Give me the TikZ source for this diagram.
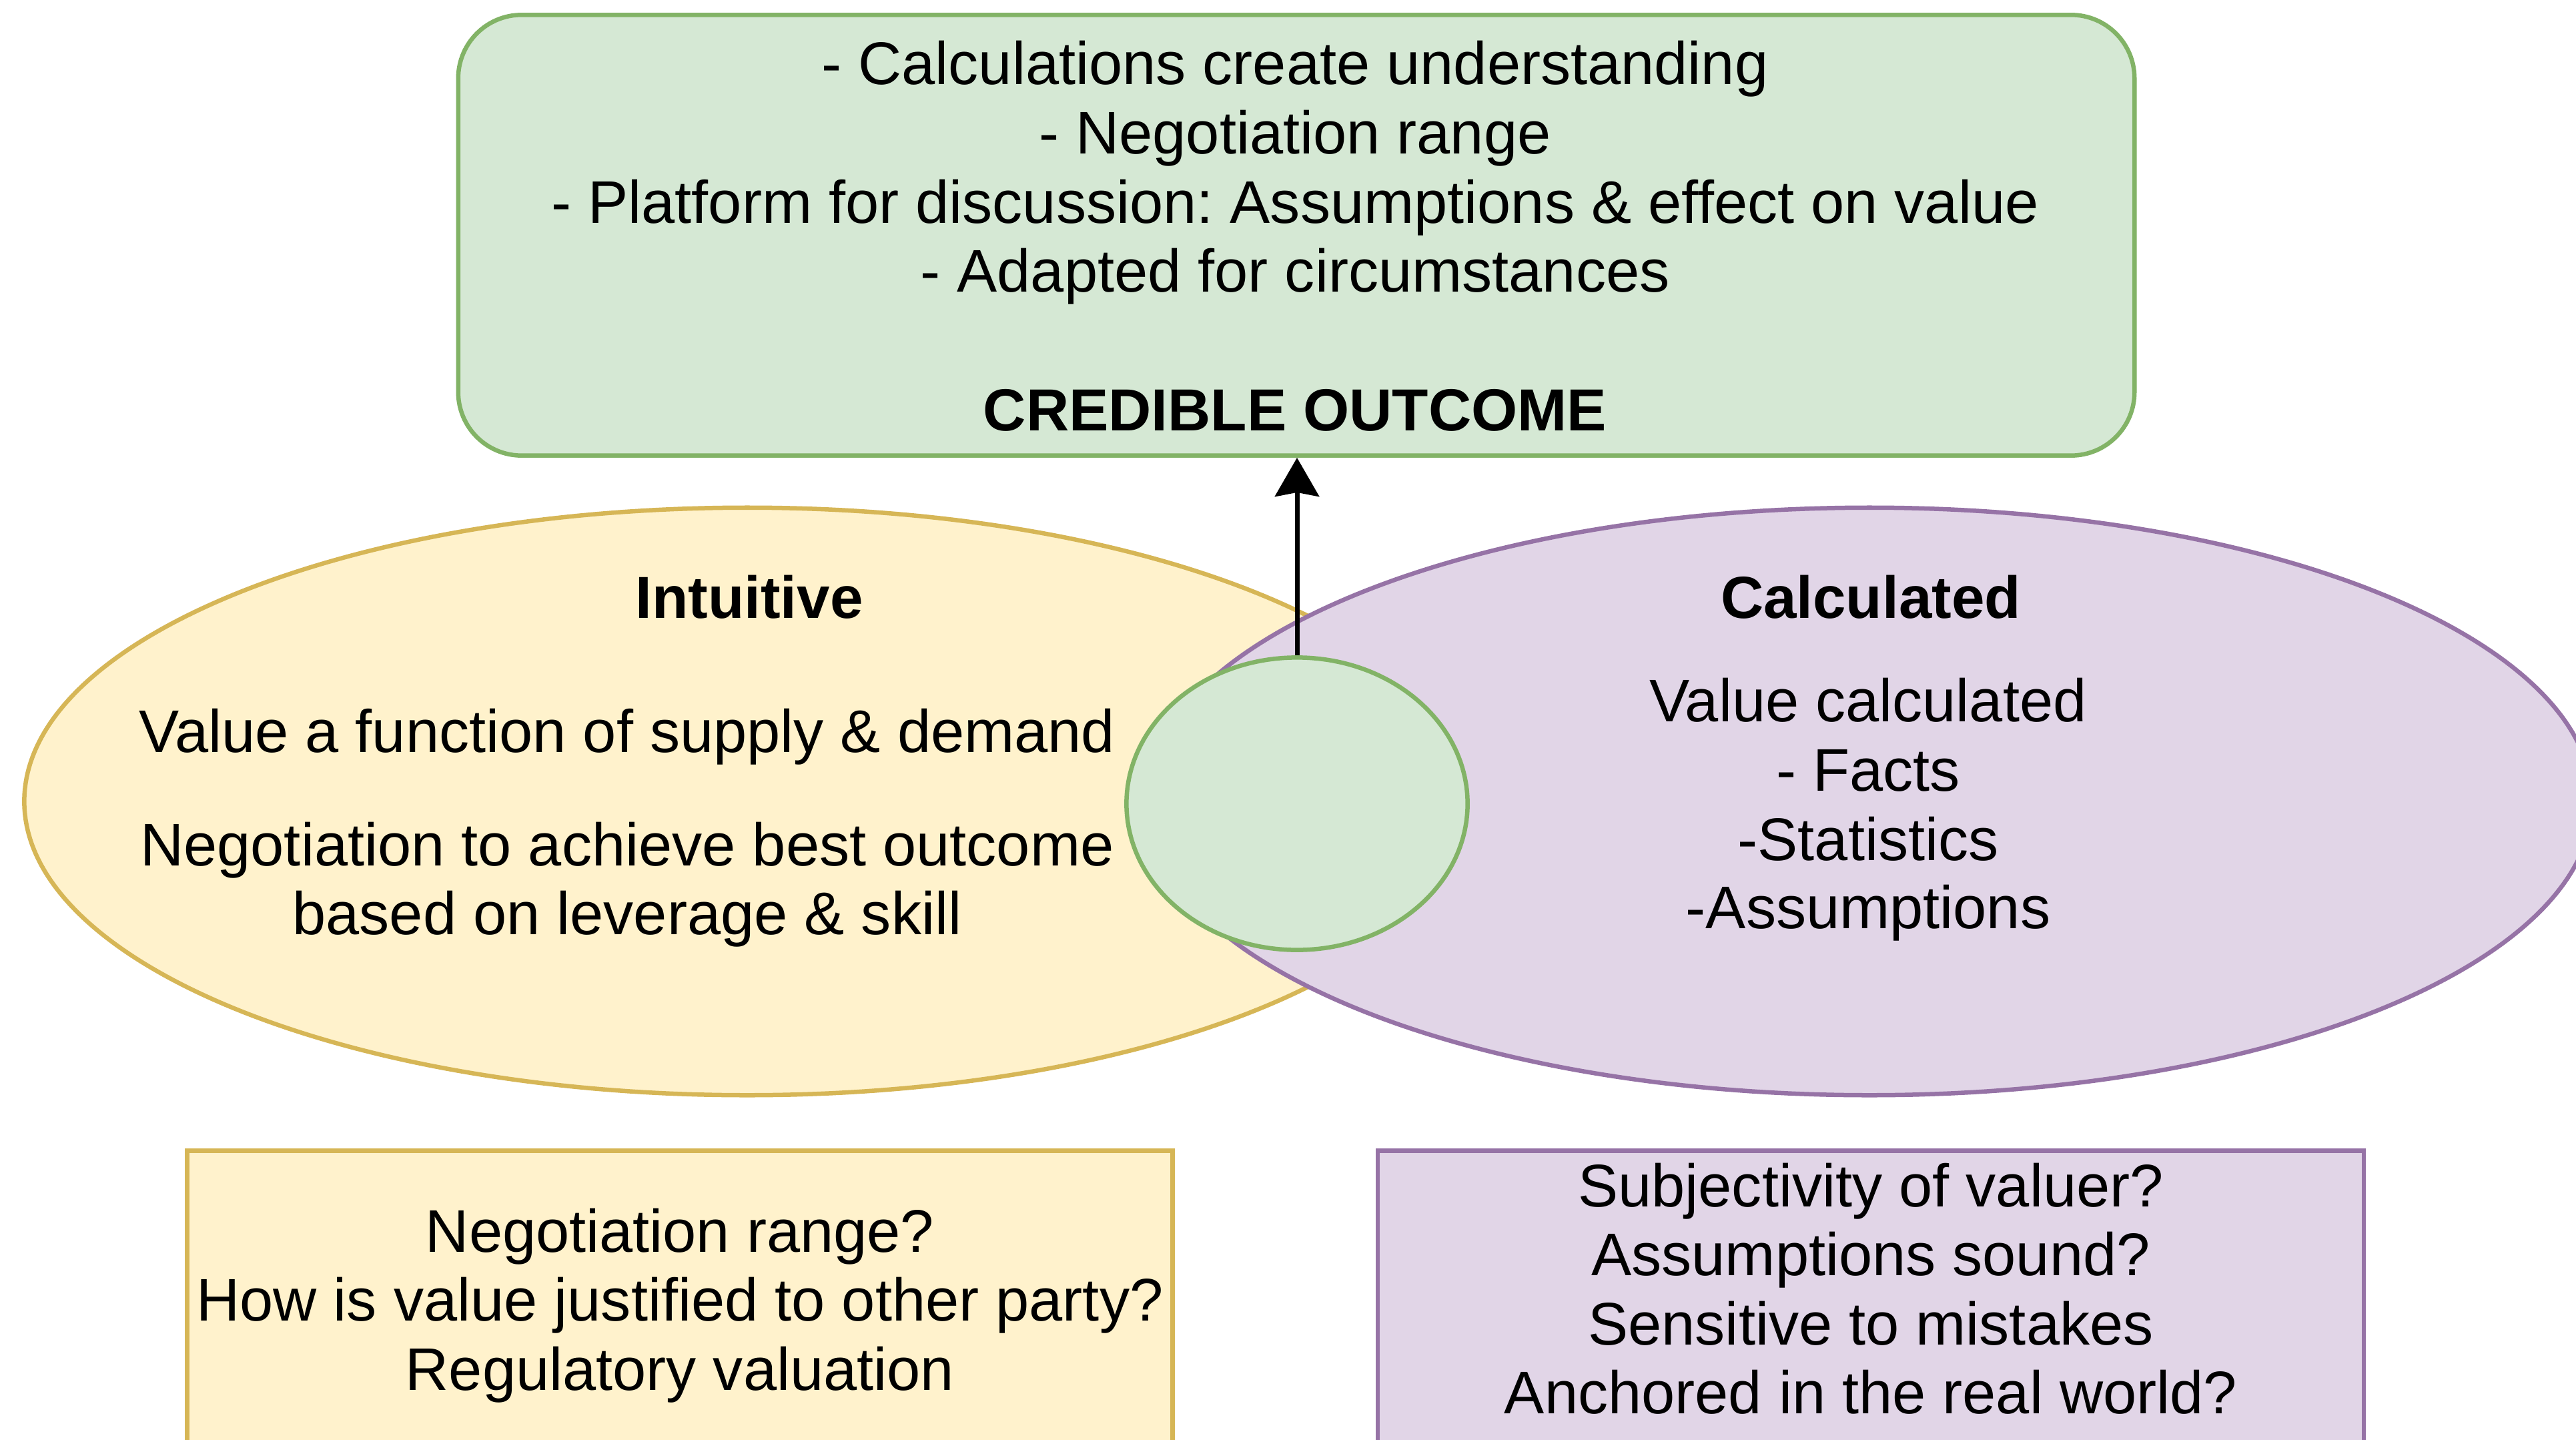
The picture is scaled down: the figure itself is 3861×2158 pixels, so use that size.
\documentclass[tikz,border=0pt]{standalone}
\usepackage{fontspec}
\setmainfont{Liberation Sans}
\usetikzlibrary{shapes.geometric,arrows.meta}

\definecolor{greenfill}{HTML}{D5E8D4}
\definecolor{greenline}{HTML}{82B366}
\definecolor{yellowfill}{HTML}{FFF2CC}
\definecolor{yellowline}{HTML}{D6B656}
\definecolor{purplefill}{HTML}{E1D5E7}
\definecolor{purpleline}{HTML}{9673A6}

\frenchspacing

\begin{document}
\begin{tikzpicture}[x=0.01cm,y=-0.01cm,
  shapebase/.style={inner sep=0pt,line width=0.065cm},
  outcomebox/.style={shapebase,rectangle,rounded corners=0.95cm,
    draw=greenline,fill=greenfill,minimum width=25.11cm,minimum height=6.60cm},
  intuitblob/.style={shapebase,ellipse,draw=yellowline,fill=yellowfill,
    minimum width=21.66cm,minimum height=8.80cm},
  calcblob/.style={shapebase,ellipse,draw=purpleline,fill=purplefill,
    minimum width=21.66cm,minimum height=8.80cm},
  overlapblob/.style={shapebase,ellipse,draw=greenline,fill=greenfill,
    minimum width=5.11cm,minimum height=4.38cm},
  intuitq/.style={shapebase,rectangle,draw=yellowline,fill=yellowfill,
    minimum width=14.765cm,minimum height=4.455cm},
  calcq/.style={shapebase,rectangle,draw=purpleline,fill=purplefill,
    minimum width=14.77cm,minimum height=4.455cm},
  txt/.style={anchor=base,inner sep=0pt,font=\fontsize{25.65pt}{29.5pt}\selectfont},
  headtxt/.style={txt,font=\fontsize{25.3pt}{29.5pt}\selectfont\bfseries},
  flow/.style={line width=0.07cm,-{Stealth[length=0.58cm,width=0.66cm,inset=0.06cm]}}]

\useasboundingbox (0,0) rectangle (3861,2158);
\clip (0,0) rectangle (3861,2158);

% shapes, back to front
\node[outcomebox] (outcome) at (1943,352.5) {};
\node[intuitblob] (intuitive) at (1120,1201) {};
\node[calcblob] (calculated) at (2802,1201) {};
\node[overlapblob] (overlap) at (1944,1204.5) {};
\node[intuitq] (intuitqs) at (1019,1947.25) {};
\node[calcq] (calcqs) at (2804,1947.25) {};

% overlap leads to the credible outcome
\draw[flow] (overlap.north) -- (overlap.north |- outcome.south);

% credible outcome
\node[txt] (o1) at (1941,127) {- Calculations create understanding};
\node[txt] (o2) at (1941,230.6) {- Negotiation range};
\node[txt] (o3) at (1941,334.2) {- Platform for discussion: Assumptions \& effect on value};
\node[txt] (o4) at (1941,437.8) {- Adapted for circumstances};
\node[headtxt] (o5) at (1941,645) {CREDIBLE OUTCOME};

% intuitive approach
\node[headtxt] (i0) at (1123,926.5) {Intuitive};
\node[txt] (i1) at (940,1127) {Value a function of supply \& demand};
\node[txt] (i2) at (940,1297.6) {Negotiation to achieve best outcome};
\node[txt] (i3) at (940,1400) {based on leverage \& skill};

% calculated approach
\node[headtxt] (c0) at (2804,926) {Calculated};
\node[txt] (c1) at (2800,1081) {Value calculated};
\node[txt] (c2) at (2800,1185) {- Facts};
\node[txt] (c3) at (2800,1289) {-Statistics};
\node[txt] (c4) at (2800,1391.4) {-Assumptions};

% questions for the intuitive approach
\node[txt] (q1) at (1019,1876) {Negotiation range?};
\node[txt] (q2) at (1019,1979.5) {How is value justified to other party?};
\node[txt] (q3) at (1019,2083) {Regulatory valuation};

% questions for the calculated approach
\node[txt] (r1) at (2804,1808) {Subjectivity of valuer?};
\node[txt] (r2) at (2804,1911.7) {Assumptions sound?};
\node[txt] (r3) at (2804,2015) {Sensitive to mistakes};
\node[txt] (r4) at (2804,2118) {Anchored in the real world?};
\end{tikzpicture}
\end{document}
